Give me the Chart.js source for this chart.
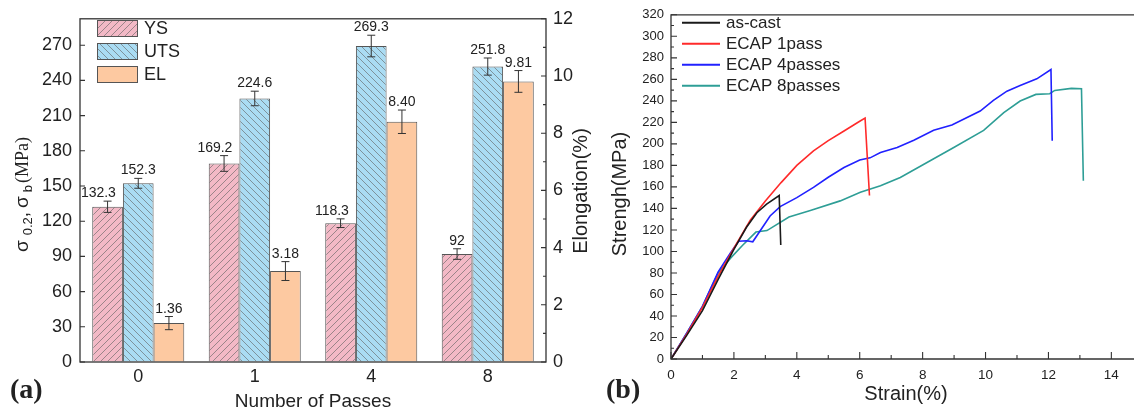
<!DOCTYPE html>
<html><head><meta charset="utf-8">
<script src="https://cdn.jsdelivr.net/npm/chart.js@4.4.1/dist/chart.umd.min.js"></script>
<style>
html,body{margin:0;padding:0;background:#fff;width:1134px;height:410px;overflow:hidden}
#a{position:absolute;left:0;top:0}
#b{position:absolute;left:600px;top:0}
</style></head><body>
<canvas id="a" width="600" height="410"></canvas>
<canvas id="b" width="534" height="410"></canvas>
<script>
// ---------- Panel (a) data ----------
const passCategories = ['0', '1', '4', '8'];
const ysValues  = [132.3, 169.2, 118.3, 92];
const ysErrors  = [4.8, 6.7, 3.7, 4.5];
const utsValues = [152.3, 224.6, 269.3, 251.8];
const utsErrors = [4.2, 6.2, 9.2, 7.3];
const elValues  = [1.36, 3.18, 8.40, 9.81];
const elErrors  = [0.23, 0.33, 0.41, 0.38];
const strengthTicksA = [0, 30, 60, 90, 120, 150, 180, 210, 240, 270];
const elongTicks = [0, 2, 4, 6, 8, 10, 12];

// ---------- Panel (b) data ----------
const asCastStrain = [0, 0.5, 1.0, 1.5, 2.0, 2.4, 2.73, 3.04, 3.44, 3.49];
const asCastStress = [0, 22, 45, 74, 102, 122.5, 136, 144, 152, 106];
const pass1Strain = [0, 0.5, 1.0, 1.5, 2.0, 2.52, 3.0, 3.5, 4.0, 4.53, 5.0, 5.5, 6.0, 6.17, 6.31];
const pass1Stress = [0, 23, 48, 77, 103, 129, 147, 164, 180, 193.5, 203, 212, 221, 224, 152];
const pass4Strain = [0, 0.5, 1.0, 1.5, 1.9, 2.15, 2.4, 2.6, 3.15, 3.47, 4.0, 4.53, 5.0, 5.5, 6.0, 6.33, 6.66, 7.19, 7.72, 8.35, 8.93, 9.83, 10.25, 10.68, 11.1, 11.63, 12.08, 12.12];
const pass4Stress = [0, 24, 49, 81, 99, 109.5, 110, 109, 133, 141.7, 150, 159.6, 169, 178, 185, 187, 192, 196.6, 203.4, 212.6, 217.6, 230.5, 240.4, 249, 254.3, 260.5, 269.1, 203];
const pass8Strain = [0, 0.5, 1.0, 1.5, 1.9, 2.27, 2.7, 3.05, 3.75, 4.43, 5.38, 6.02, 6.66, 7.29, 8.14, 8.99, 9.94, 10.58, 11.1, 11.6, 12.04, 12.2, 12.73, 13.05, 13.11];
const pass8Stress = [0, 24, 49, 80, 94, 105.5, 118, 119.4, 132, 138, 147, 155, 161, 168.8, 182.7, 196.6, 212.6, 229, 239.8, 246, 246.6, 249.7, 251.6, 251.3, 165.7];
const strainTicks = [0, 2, 4, 6, 8, 10, 12, 14];
const strengthTicksB = [0, 20, 40, 60, 80, 100, 120, 140, 160, 180, 200, 220, 240, 260, 280, 300, 320];

const SANS = '"Liberation Sans", Arial, sans-serif';
const SERIF = '"Liberation Serif", "Times New Roman", serif';
const AXIS = '#333';

function hatch(ctx, bg, dir) {
  const s = 7, c = document.createElement('canvas');
  c.width = s; c.height = s;
  const g = c.getContext('2d');
  g.fillStyle = bg; g.fillRect(0, 0, s, s);
  g.strokeStyle = 'rgba(95,95,95,0.75)'; g.lineWidth = 0.8; g.beginPath();
  if (dir > 0) {
    g.moveTo(-1, s + 1); g.lineTo(s + 1, -1);
    g.moveTo(-1, 1); g.lineTo(1, -1);
    g.moveTo(s - 1, s + 1); g.lineTo(s + 1, s - 1);
  } else {
    g.moveTo(-1, -1); g.lineTo(s + 1, s + 1);
    g.moveTo(s - 1, -1); g.lineTo(s + 1, 1);
    g.moveTo(-1, s - 1); g.lineTo(1, s + 1);
  }
  g.stroke();
  return ctx.createPattern(c, 'repeat');
}

function midpoints(arr) {
  const m = [];
  for (let i = 0; i < arr.length - 1; i++) m.push((arr[i] + arr[i + 1]) / 2);
  return m;
}

// ---------- Panel (a) ----------
const ctxA = document.getElementById('a').getContext('2d');
const ysFill = hatch(ctxA, '#f3b9c6', 1);
const utsFill = hatch(ctxA, '#aadcf3', -1);
const elFill = '#fdc9a1';

const decorA = {
  id: 'decorA',
  afterDatasetsDraw(chart) {
    const ctx = chart.ctx;
    ctx.save();
    chart.data.datasets.forEach((ds, i) => {
      const meta = chart.getDatasetMeta(i);
      const ys = chart.scales[meta.yAxisID];
      const nextMeta = i + 1 < chart.data.datasets.length ? chart.getDatasetMeta(i + 1) : null;
      meta.data.forEach((el, j) => {
        const v = ds.data[j], e = ds.errors[j];
        const t = ys.getPixelForValue(v + e), b = ys.getPixelForValue(v - e), x = el.x;
        ctx.strokeStyle = '#333'; ctx.lineWidth = 1;
        ctx.beginPath();
        ctx.moveTo(x, t); ctx.lineTo(x, b);
        ctx.moveTo(x - 4, t); ctx.lineTo(x + 4, t);
        ctx.moveTo(x - 4, b); ctx.lineTo(x + 4, b);
        ctx.stroke();
        const txt = ds.fmt(v);
        ctx.font = '14px ' + SANS;
        const w = ctx.measureText(txt).width;
        const base = t - 4;
        let cx = x;
        if (nextMeta) {
          const nb = nextMeta.data[j];
          const nLeft = nb.x - nb.width / 2;
          if (base > nb.y && cx + w / 2 > nLeft - 7) cx = nLeft - 7 - w / 2;
        }
        ctx.fillStyle = '#222'; ctx.textAlign = 'center'; ctx.textBaseline = 'alphabetic';
        ctx.fillText(txt, cx, base);
      });
    });
    ctx.restore();
  },
  afterDraw(chart) {
    const ctx = chart.ctx, ca = chart.chartArea;
    ctx.save();
    ctx.strokeStyle = AXIS; ctx.lineWidth = 1.3;
    ctx.strokeRect(ca.left, ca.top, ca.right - ca.left, ca.bottom - ca.top);
    const yL = chart.scales.y, yR = chart.scales.y2;
    ctx.lineWidth = 1.1; ctx.beginPath();
    strengthTicksA.forEach(v => { const p = yL.getPixelForValue(v); ctx.moveTo(ca.left, p); ctx.lineTo(ca.left + 5, p); });
    elongTicks.forEach(v => { const p = yR.getPixelForValue(v); ctx.moveTo(ca.right, p); ctx.lineTo(ca.right - 5, p); });
    midpoints(elongTicks).forEach(v => { const p = yR.getPixelForValue(v); ctx.moveTo(ca.right, p); ctx.lineTo(ca.right - 3, p); });
    ctx.stroke();
    // legend
    chart.data.datasets.forEach((ds, i) => {
      const y = 20 + i * 23;
      ctx.fillStyle = ds.backgroundColor;
      ctx.fillRect(97, y, 40, 16);
      ctx.strokeStyle = '#555'; ctx.lineWidth = 1;
      ctx.strokeRect(97.5, y + 0.5, 40, 16);
      ctx.fillStyle = '#222'; ctx.font = '18px ' + SANS;
      ctx.textAlign = 'left'; ctx.textBaseline = 'middle';
      ctx.fillText(ds.label, 144, y + 9);
    });
    // axis titles
    ctx.fillStyle = '#222';
    ctx.font = '19px ' + SANS; ctx.textAlign = 'center'; ctx.textBaseline = 'alphabetic';
    ctx.fillText('Number of Passes', (ca.left + ca.right) / 2, 407);
    ctx.save(); ctx.translate(587, 191); ctx.rotate(-Math.PI / 2);
    ctx.font = '20px ' + SANS; ctx.fillText('Elongation(%)', 0, 0); ctx.restore();
    // sigma title
    ctx.save(); ctx.translate(28, 252); ctx.rotate(-Math.PI / 2);
    ctx.textAlign = 'left'; ctx.textBaseline = 'alphabetic';
    let px = 0;
    const seg = (t, f, dy, gap) => { ctx.font = f; ctx.fillText(t, px, dy); px += ctx.measureText(t).width + gap; };
    seg('σ', '19px ' + SANS, 0, 5);
    seg('0.2', '13px ' + SANS, 4, 0);
    seg(',', '19px ' + SANS, 0, 4);
    seg('σ', '19px ' + SANS, 0, 4);
    seg('b', '13px ' + SANS, 4, 2);
    seg('(MPa)', '18px ' + SERIF, 0, 0);
    ctx.restore();
    // panel letter
    ctx.font = 'bold 28px ' + SERIF; ctx.textAlign = 'left'; ctx.textBaseline = 'alphabetic';
    ctx.fillText('(a)', 10, 398);
    ctx.restore();
  }
};

new Chart(ctxA, {
  type: 'bar',
  data: {
    labels: passCategories,
    datasets: [
      { label: 'YS', data: ysValues, errors: ysErrors, fmt: v => String(v), yAxisID: 'y', backgroundColor: ysFill, borderColor: '#555', borderWidth: 1 },
      { label: 'UTS', data: utsValues, errors: utsErrors, fmt: v => String(v), yAxisID: 'y', backgroundColor: utsFill, borderColor: '#555', borderWidth: 1 },
      { label: 'EL', data: elValues, errors: elErrors, fmt: v => v.toFixed(2), yAxisID: 'y2', backgroundColor: elFill, borderColor: '#555', borderWidth: 1 }
    ]
  },
  options: {
    responsive: false, animation: false, devicePixelRatio: 1,
    layout: { padding: { top: 15, left: 0, right: 0, bottom: 0 } },
    datasets: { bar: { categoryPercentage: 0.79, barPercentage: 1.0 } },
    plugins: { legend: { display: false }, tooltip: { enabled: false } },
    scales: {
      x: {
        type: 'category',
        grid: { display: true, drawOnChartArea: false, drawTicks: false },
        border: { display: false },
        ticks: { font: { family: SANS, size: 18 }, color: '#222', padding: 4 },
        afterFit(s) { s.height = 48; }
      },
      y: {
        position: 'left', min: 0, max: 292.5,
        grid: { display: true, drawOnChartArea: false, drawTicks: false },
        border: { display: false },
        ticks: { font: { family: SANS, size: 18 }, color: '#222', padding: 8 },
        afterBuildTicks(s) { s.ticks = strengthTicksA.map(v => ({ value: v })); },
        afterFit(s) { s.width = 80; }
      },
      y2: {
        position: 'right', min: 0, max: 12,
        grid: { display: true, drawOnChartArea: false, drawTicks: false },
        border: { display: false },
        ticks: { font: { family: SANS, size: 18 }, color: '#222', padding: 7 },
        afterBuildTicks(s) { s.ticks = elongTicks.map(v => ({ value: v })); },
        afterFit(s) { s.width = 54; }
      }
    }
  },
  plugins: [decorA]
});

// ---------- Panel (b) ----------
const ctxB = document.getElementById('b').getContext('2d');
const toXY = (xs, ys) => xs.map((x, i) => ({ x: x, y: ys[i] }));

const decorB = {
  id: 'decorB',
  afterDraw(chart) {
    const ctx = chart.ctx, ca = chart.chartArea;
    const xs = chart.scales.x, ys = chart.scales.y;
    ctx.save();
    ctx.strokeStyle = AXIS; ctx.lineWidth = 1.3;
    ctx.beginPath();
    ctx.moveTo(ca.right, ca.top); ctx.lineTo(ca.left, ca.top); ctx.lineTo(ca.left, ca.bottom); ctx.lineTo(ca.right, ca.bottom);
    ctx.stroke();
    ctx.lineWidth = 1.1; ctx.beginPath();
    strengthTicksB.forEach(v => { const p = ys.getPixelForValue(v); ctx.moveTo(ca.left, p); ctx.lineTo(ca.left + 6, p); });
    midpoints(strengthTicksB).forEach(v => { const p = ys.getPixelForValue(v); ctx.moveTo(ca.left, p); ctx.lineTo(ca.left + 3, p); });
    strainTicks.forEach(v => { const p = xs.getPixelForValue(v); ctx.moveTo(p, ca.bottom); ctx.lineTo(p, ca.bottom - 7); });
    midpoints(strainTicks).forEach(v => { const p = xs.getPixelForValue(v); ctx.moveTo(p, ca.bottom); ctx.lineTo(p, ca.bottom - 4); });
    ctx.stroke();
    // legend
    chart.data.datasets.forEach((ds, i) => {
      const y = 22.7 + i * 21;
      ctx.strokeStyle = ds.borderColor; ctx.lineWidth = 2;
      ctx.beginPath(); ctx.moveTo(82, y); ctx.lineTo(120, y); ctx.stroke();
      ctx.fillStyle = '#222'; ctx.font = '17px ' + SANS;
      ctx.textAlign = 'left'; ctx.textBaseline = 'middle';
      ctx.fillText(ds.label, 126, y + 1);
    });
    ctx.fillStyle = '#222';
    ctx.font = '20px ' + SANS; ctx.textAlign = 'center'; ctx.textBaseline = 'alphabetic';
    ctx.fillText('Strain(%)', 306, 400);
    ctx.save(); ctx.translate(26, 194); ctx.rotate(-Math.PI / 2);
    ctx.fillText('Strengh(MPa)', 0, 0); ctx.restore();
    ctx.font = 'bold 28px ' + SERIF; ctx.textAlign = 'left';
    ctx.fillText('(b)', 6, 398);
    ctx.restore();
  }
};

new Chart(ctxB, {
  type: 'line',
  data: {
    datasets: [
      { label: 'as-cast', data: toXY(asCastStrain, asCastStress), borderColor: '#1a1a1a' },
      { label: 'ECAP 1pass', data: toXY(pass1Strain, pass1Stress), borderColor: '#ff2a2a' },
      { label: 'ECAP 4passes', data: toXY(pass4Strain, pass4Stress), borderColor: '#2121ff' },
      { label: 'ECAP 8passes', data: toXY(pass8Strain, pass8Stress), borderColor: '#2e9e96' }
    ]
  },
  options: {
    responsive: false, animation: false, devicePixelRatio: 1,
    layout: { padding: { top: 13, left: 0, right: 0, bottom: 0 } },
    elements: { point: { radius: 0 }, line: { borderWidth: 1.6, tension: 0, fill: false } },
    plugins: { legend: { display: false }, tooltip: { enabled: false } },
    scales: {
      x: {
        type: 'linear', min: 0, max: 14.72,
        grid: { display: true, drawOnChartArea: false, drawTicks: false },
        border: { display: false },
        ticks: { font: { family: SANS, size: 13.5 }, color: '#222', padding: 8 },
        afterBuildTicks(s) { s.ticks = strainTicks.map(v => ({ value: v })); },
        afterFit(s) { s.height = 51; }
      },
      y: {
        type: 'linear', min: 0, max: 320,
        grid: { display: true, drawOnChartArea: false, drawTicks: false },
        border: { display: false },
        ticks: { font: { family: SANS, size: 13 }, color: '#222', padding: 7 },
        afterBuildTicks(s) { s.ticks = strengthTicksB.map(v => ({ value: v })); },
        afterFit(s) { s.width = 71; }
      }
    }
  },
  plugins: [decorB]
});
</script></body></html>
